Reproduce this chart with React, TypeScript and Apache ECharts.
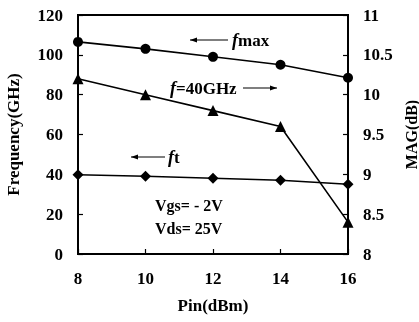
import React, { useEffect, useRef } from "react";
import * as echarts from "echarts";

const pinValues = [8, 10, 12, 14, 16];
const fmaxValues = [106.5, 103, 99, 95, 88.5];
const magValues = [10.2, 10.0, 9.8, 9.6, 8.4];
const ftValues = [39.8, 39, 38, 37, 35];

const FONT = "'Liberation Serif', 'Times New Roman', serif";

export default function App() {
  const ref = useRef<HTMLDivElement>(null);
  useEffect(() => {
    if (!ref.current) return;
    const chart = echarts.init(ref.current, undefined, { renderer: "svg" });
    const pair = (vals: number[]) => pinValues.map((x, i) => [x, vals[i]]);
    const axisLabel = { color: "#000", fontFamily: FONT, fontWeight: "bold", fontSize: 17 };
    const nameStyle = { color: "#000", fontFamily: FONT, fontWeight: "bold", fontSize: 17 };
    const arrow = (x1: number, x2: number, y: number, dir: "left" | "right") => {
      const tip = dir === "left" ? x1 : x2;
      const back = dir === "left" ? tip + 7 : tip - 7;
      return [
        { type: "line", shape: { x1, y1: y, x2, y2: y }, style: { stroke: "#000", lineWidth: 1.2 } },
        { type: "polygon", shape: { points: [[tip, y], [back, y - 2.5], [back, y + 2.5]] }, style: { fill: "#000" } },
      ];
    };
    const txt = (x: number, y: number, text: string, rich?: any) => ({
      type: "text",
      x,
      y,
      style: {
        text,
        fill: "#000",
        font: `bold 16px ${FONT}`,
        verticalAlign: "middle",
        rich,
      },
    });
    const richF = {
      i: { fontStyle: "italic", fontWeight: "bold", fontSize: 18, fontFamily: FONT, fill: "#000" },
      b: { fontWeight: "bold", fontSize: 17, fontFamily: FONT, fill: "#000" },
    };
    chart.setOption({
      animation: false,
      grid: {
        left: 78,
        right: 71,
        top: 15,
        bottom: 68,
        show: true,
        borderColor: "#000",
        borderWidth: 2,
        outerBoundsMode: "none",
        containLabel: false,
      },
      xAxis: {
        type: "value",
        min: 8,
        max: 16,
        interval: 2,
        name: "Pin(dBm)",
        nameLocation: "middle",
        nameGap: 43,
        nameTextStyle: nameStyle,
        axisLine: { lineStyle: { color: "#000", width: 2 } },
        axisTick: { inside: true, length: 5, lineStyle: { color: "#000", width: 1.2 } },
        axisLabel: { ...axisLabel, margin: 16 },
        splitLine: { show: false },
      },
      yAxis: [
        {
          type: "value",
          min: 0,
          max: 120,
          interval: 20,
          name: "Frequency(GHz)",
          nameLocation: "middle",
          nameGap: 56,
          nameRotate: 90,
          nameTextStyle: nameStyle,
          axisLine: { show: true, lineStyle: { color: "#000", width: 2 } },
          axisTick: { show: true, inside: true, length: 5, lineStyle: { color: "#000", width: 1.2 } },
          axisLabel: { ...axisLabel, margin: 15 },
          splitLine: { show: false },
        },
        {
          type: "value",
          min: 8,
          max: 11,
          interval: 0.5,
          position: "right",
          name: "MAG(dB)",
          nameLocation: "middle",
          nameGap: 47,
          nameRotate: 90,
          nameTextStyle: { ...nameStyle, fontSize: 16 },
          axisLine: { show: true, lineStyle: { color: "#000", width: 2 } },
          axisTick: { show: true, inside: true, length: 5, lineStyle: { color: "#000", width: 1.2 } },
          axisLabel: { ...axisLabel, margin: 15 },
          splitLine: { show: false },
        },
      ],
      series: [
        {
          name: "fmax",
          type: "line",
          yAxisIndex: 0,
          data: pair(fmaxValues),
          symbol: "circle",
          symbolSize: 10,
          lineStyle: { color: "#000", width: 1.6 },
          itemStyle: { color: "#000" },
        },
        {
          name: "MAG",
          type: "line",
          yAxisIndex: 1,
          data: pair(magValues),
          symbol: "triangle",
          symbolSize: 11,
          lineStyle: { color: "#000", width: 1.6 },
          itemStyle: { color: "#000" },
        },
        {
          name: "ft",
          type: "line",
          yAxisIndex: 0,
          data: pair(ftValues),
          symbol: "diamond",
          symbolSize: 11,
          lineStyle: { color: "#000", width: 1.6 },
          itemStyle: { color: "#000" },
        },
      ],
      graphic: [
        ...arrow(190, 228, 40, "left"),
        txt(232, 40, "{i|f}{b|max}", richF),
        txt(170, 88, "{i|f}{b|=40GHz}", richF),
        ...arrow(243, 277, 88, "right"),
        ...arrow(131, 165, 157, "left"),
        txt(168, 157, "{i|f}{b|t}", richF),
        txt(155, 205, "Vgs= - 2V"),
        txt(155, 228, "Vds= 25V"),
      ],
    });
    return () => chart.dispose();
  }, []);
  return <div ref={ref} style={{ position: "fixed", left: 0, top: 0, width: 419, height: 322 }} />;
}
